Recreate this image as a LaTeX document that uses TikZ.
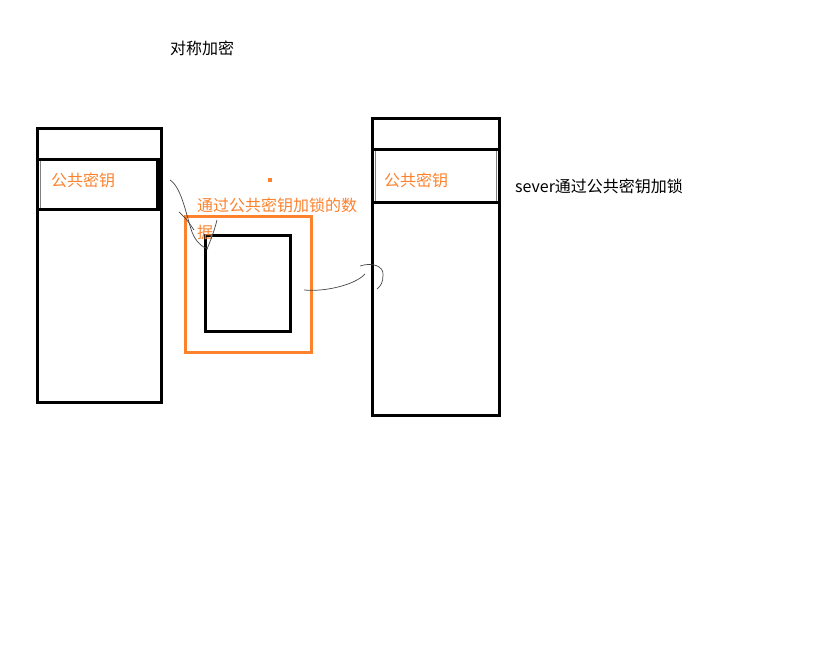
\documentclass[tikz,border=0pt]{standalone}
\usepackage{fontspec}
\setmainfont{Noto Sans CJK SC}
\definecolor{keyorange}{RGB}{252,130,46}
\definecolor{penGray}{RGB}{70,70,70}
\tikzset{
  column/.style={draw=black, line width=3pt},
  keybox/.style={draw=gray, line width=1pt},
  orangetext/.style={text=keyorange, font=\fontsize{16pt}{18pt}\selectfont, inner sep=0pt},
  blacktext/.style={text=black, font=\fontsize{16pt}{18pt}\selectfont, inner sep=0pt},
  pen/.style={draw=penGray, line width=0.7pt}
}
\begin{document}
\begin{tikzpicture}[x=1pt, y=-1pt]
\useasboundingbox (0,0) rectangle (823,647);

    % title
    \node[blacktext, anchor=west] (title) at (170,48) {对称加密};

    % client column
    \draw[column] (37,129) rectangle (161,403);
    \draw[keybox] (40,161) rectangle (157,209);
    \draw[line width=3pt] (37,160) -- (161,160);
    \draw[line width=3pt] (37,210) -- (161,210);
    \draw[line width=5pt] (158,160) -- (158,210);
    \node[orangetext, anchor=west] (keyleft) at (51,180) {公共密钥};

    % server column
    \draw[column] (372,119) rectangle (499,416);
    \draw[keybox] (375,151) rectangle (496,202);
    \draw[line width=3pt] (372,150) -- (499,150);
    \draw[line width=3pt] (372,203) -- (499,203);
    \node[orangetext, anchor=west] (keyright) at (384,180) {公共密钥};
    \node[blacktext, anchor=west] (serverlabel) at (515,186) {sever通过公共密钥加锁};

    % locked data
    \draw[draw=keyorange, line width=3pt] (185,217) rectangle (311,353);
    \draw[line width=3pt] (205,236) rectangle (290,332);
    \node[orangetext, anchor=west] (locked1) at (197,205) {通过公共密钥加锁的数};
    \node[orangetext, anchor=west] (locked2) at (197,232) {据};
    \fill[keyorange] (267.5,178.5) rectangle (271.5,182.5);

    % pen strokes
    \draw[pen] (170,180) .. controls (182,188) and (186,215) .. (192,232) .. controls (196,242) and (202,247) .. (208,249);
    \draw[pen] (179,212) .. controls (186,218) and (190,224) .. (194,230);
    \draw[pen] (217,220) .. controls (214,232) and (210,242) .. (207,249);
    \draw[pen] (304,290) .. controls (325,292) and (355,285) .. (365,274);
    \draw[pen] (360,266) .. controls (372,262) and (384,266) .. (383,275) .. controls (383,282) and (381,286) .. (377,289);
\end{tikzpicture}
\end{document}
